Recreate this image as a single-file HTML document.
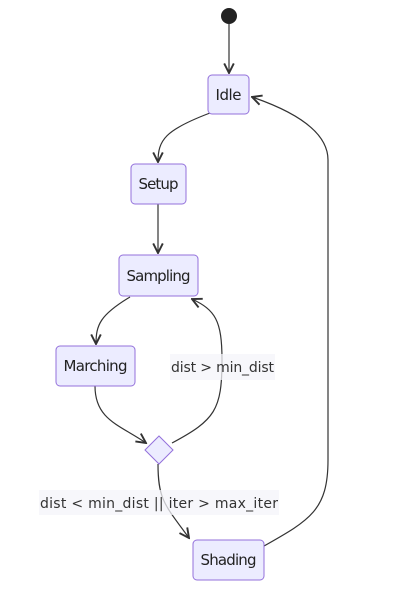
<!DOCTYPE html>
<html><head><style>body{margin:0;background:#fff}svg{display:block}text{font-family:"DejaVu Sans","Liberation Sans",sans-serif;font-size:14px;fill:#333}.n{font-size:15px;fill:#222}</style></head><body>
<svg width="401" height="604" viewBox="0 0 401 604">
<defs><marker id="a" viewBox="0 0 10 10" refX="9" refY="5" markerWidth="10" markerHeight="10" orient="auto"><path d="M1,1 L9,5 L1,9" fill="none" stroke="#333" stroke-width="1.6"/></marker></defs>
<g fill="none" stroke="#333" stroke-width="1.2">
<path d="M229,24 L229,73" marker-end="url(#a)"/>
<path d="M210,113 C165,130 158,140 158,162" marker-end="url(#a)"/>
<path d="M158,204 L158,253" marker-end="url(#a)"/>
<path d="M130,297 C100,315 96,325 96,344" marker-end="url(#a)"/>
<path d="M95,386 C95,420 120,425 146,443" marker-end="url(#a)"/>
<path d="M172,443 C215,420 222,410 222,360 C222,320 215,310 192,299" marker-end="url(#a)"/>
<path d="M158,464 C158,500 165,505 189,538" marker-end="url(#a)"/>
<path d="M264,546 C310,520 328,510 328,460 L328,160 C328,130 290,110 252,97" marker-end="url(#a)"/>
</g>
<circle cx="229" cy="16" r="8" fill="#222"/>
<g fill="#ececff" stroke="#9370db" stroke-width="1">
<rect x="208" y="75" width="41" height="39" rx="4"/>
<rect x="131" y="164" width="55" height="40" rx="4"/>
<rect x="119" y="255" width="79" height="41" rx="4"/>
<rect x="56" y="346" width="79" height="40" rx="4"/>
<rect x="193" y="540" width="71" height="40" rx="4"/>
<path d="M159,436 L173,450 L159,464 L145,450 Z"/>
</g>
<rect x="170" y="354" width="105" height="26" fill="#f4f4fa" opacity="0.75"/>
<rect x="39" y="490" width="240" height="25" fill="#f4f4fa" opacity="0.75"/>
<g text-anchor="middle">
<text class="n" x="228.5" y="100" textLength="26">Idle</text>
<text class="n" x="158.5" y="189" textLength="40">Setup</text>
<text class="n" x="158.5" y="281" textLength="64">Sampling</text>
<text class="n" x="95.5" y="371" textLength="64">Marching</text>
<text class="n" x="228.5" y="565" textLength="56">Shading</text>
<text x="222.5" y="372" textLength="103">dist &gt; min_dist</text>
<text x="159" y="508" textLength="238">dist &lt; min_dist || iter &gt; max_iter</text>
</g>
</svg>
</body></html>
